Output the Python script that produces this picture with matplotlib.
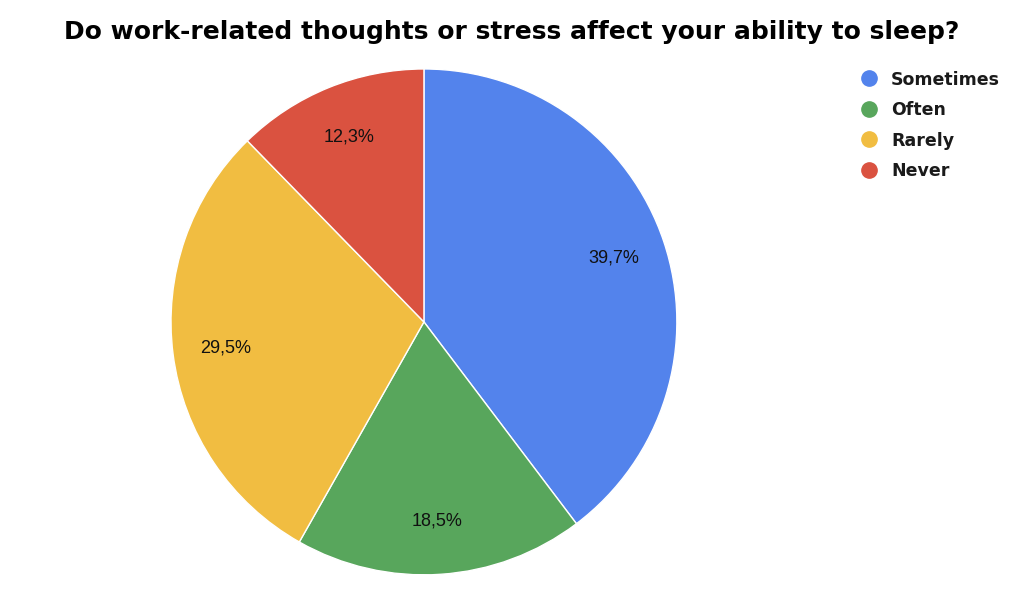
import matplotlib.pyplot as plt
from matplotlib.lines import Line2D

labels = ["Sometimes", "Often", "Rarely", "Never"]
values = [39.7, 18.5, 29.5, 12.3]
colors = ["#5383EC", "#58A65C", "#F1BD41", "#DA5240"]

fig = plt.figure(figsize=(10.24, 5.97), dpi=100)
ax = fig.add_axes([0.167, 0.037, 0.494, 0.8476])

wedges, texts, autotexts = ax.pie(
    values, colors=colors, startangle=90, counterclock=False,
    autopct=lambda p: f"{p:.1f}%".replace(".", ","), pctdistance=0.79,
    wedgeprops=dict(linewidth=1.0, edgecolor="white"),
    textprops=dict(fontsize=13, family="Liberation Sans", color="#111111"))
ax.set_xlim(-1, 1)
ax.set_ylim(-1, 1)
ax.set_aspect("equal")

fig.text(0.5, 0.946, "Do work-related thoughts or stress affect your ability to sleep?",
         ha="center", va="center", fontsize=18, fontweight="heavy", family="DejaVu Sans")

handles = [Line2D([], [], marker="o", linestyle="", markersize=11, color=c) for c in colors]
leg = fig.legend(handles, labels, loc="upper left", bbox_to_anchor=(0.816, 0.908),
                 frameon=False, handletextpad=0.3, labelspacing=0.72,
                 prop=dict(family="DejaVu Sans", weight="bold", size=12.5))
for t in leg.get_texts():
    t.set_color("#1a1a1a")

fig.savefig("out.png", dpi=100)
